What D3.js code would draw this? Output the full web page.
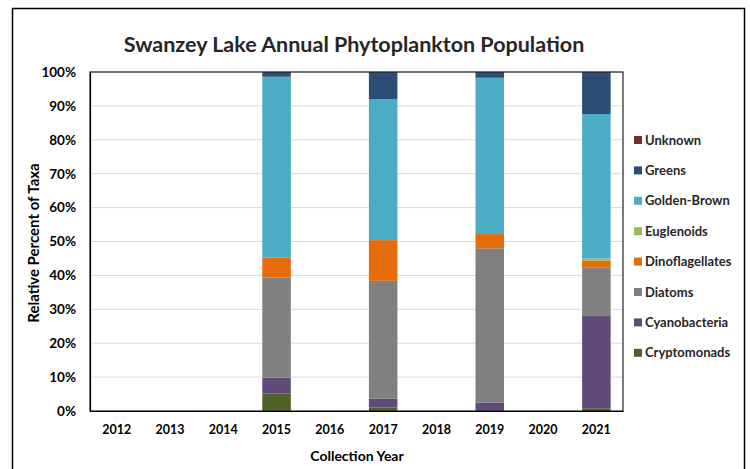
<!DOCTYPE html>
<html><head><meta charset="utf-8">
<script src="https://cdn.jsdelivr.net/npm/d3@7"></script>
<style>body{margin:0;background:#fff}svg{display:block}text{font-family:Lato,"Open Sans",sans-serif}</style>
</head><body>
<script>
const years = ["2012","2013","2014","2015","2016","2017","2018","2019","2020","2021"];
const taxa = ["Cryptomonads","Cyanobacteria","Diatoms","Dinoflagellates","Euglenoids","Golden-Brown","Greens","Unknown"];
const colors = ["#4F6228","#604A7B","#808080","#E46C0A","#9BBB59","#4BACC6","#2C4D75","#772C2A"];
// percent values per taxon, by year (0 where no sample)
const cryptomonads   = [0,0,0,5.2,0,1.0,0,0,0,0.8];
const cyanobacteria  = [0,0,0,4.6,0,2.6,0,2.5,0,27.2];
const diatoms        = [0,0,0,29.6,0,34.8,0,45.5,0,14.4];
const dinoflagellates= [0,0,0,5.9,0,12.0,0,4.2,0,2.0];
const euglenoids     = [0,0,0,0,0,0,0,0,0,0.6];
const goldenBrown    = [0,0,0,53.3,0,41.6,0,46.1,0,42.6];
const greens         = [0,0,0,1.4,0,8.0,0,1.7,0,12.4];
const unknown        = [0,0,0,0,0,0,0,0,0,0];
const yTicks = [0,10,20,30,40,50,60,70,80,90,100];

const seriesVals = [cryptomonads,cyanobacteria,diatoms,dinoflagellates,euglenoids,goldenBrown,greens,unknown];
const table = years.map((y,i)=>{const o={year:y};taxa.forEach((t,k)=>o[t]=seriesVals[k][i]);return o;});

const W=750,H=469;
const svg=d3.select("body").append("svg").attr("width",W).attr("height",H);
svg.append("rect").attr("x",12.5).attr("y",8.5).attr("width",732).attr("height",470).attr("fill","#fff").attr("stroke","#000").attr("stroke-width",1.5);

const L=90,R=623,T=72,B=411;
const x=d3.scaleBand().domain(years).range([L,R]).paddingInner(0.465).paddingOuter(0.2325);
const y=d3.scaleLinear().domain([0,100]).range([B,T]);

// gridlines
svg.append("g").selectAll("line").data(yTicks.slice(1)).join("line")
  .attr("x1",L).attr("x2",R).attr("y1",d=>y(d)).attr("y2",d=>y(d)).attr("stroke","#d9d9d9").attr("stroke-width",1);

const stack=d3.stack().keys(taxa)(table);
svg.append("g").selectAll("g").data(stack).join("g").attr("fill",(d,i)=>colors[i])
  .selectAll("rect").data(d=>d).join("rect")
  .attr("x",d=>x(d.data.year)).attr("width",x.bandwidth())
  .attr("y",d=>y(d[1])).attr("height",d=>Math.max(0,y(d[0])-y(d[1])));

// plot border
svg.append("rect").attr("x",L).attr("y",T).attr("width",R-L).attr("height",B-T).attr("fill","none").attr("stroke","#222").attr("stroke-width",1.2);

// y axis
const ya=svg.append("g").attr("transform",`translate(${L},0)`).call(d3.axisLeft(y).tickValues(yTicks).tickFormat(d=>d+"%").tickSize(0).tickPadding(14));
ya.select(".domain").attr("stroke","#000").attr("stroke-width",1.2);
ya.selectAll("text").attr("font-size",13.5).attr("font-weight","bold").attr("fill","#000").attr("font-family","Lato");

const xa=svg.append("g").attr("transform",`translate(0,${B})`).call(d3.axisBottom(x).tickSize(0).tickPadding(14));
xa.select(".domain").attr("stroke","#000").attr("stroke-width",1.2);
xa.selectAll("text").attr("font-size",12.5).attr("font-weight","bold").attr("fill","#000").attr("font-family","Lato");

svg.append("text").attr("x",354).attr("y",52).attr("text-anchor","middle").attr("font-size",21.5).attr("font-weight","bold").attr("fill","#262626").text("Swanzey Lake Annual Phytoplankton Population");
svg.append("text").attr("x",357).attr("y",461).attr("text-anchor","middle").attr("font-size",14).attr("font-weight","bold").attr("fill","#000").text("Collection Year");
svg.append("text").attr("transform","translate(39,243) rotate(-90)").attr("text-anchor","middle").attr("font-size",15).attr("font-weight","bold").attr("fill","#000").text("Relative Percent of Taxa");

// legend
const leg=svg.append("g");
const legOrder=taxa.map((t,i)=>({t,c:colors[i]})).reverse();
leg.selectAll("g").data(legOrder).join("g").attr("transform",(d,i)=>`translate(634,${140+i*30.4})`)
  .each(function(d){const g=d3.select(this);
    g.append("rect").attr("x",0).attr("y",-4).attr("width",8).attr("height",8).attr("fill",d.c);
    g.append("text").attr("x",11).attr("y",4.5).attr("font-size",13).attr("font-weight","bold").attr("fill","#262626").text(d.t);});
</script>
</body></html>
